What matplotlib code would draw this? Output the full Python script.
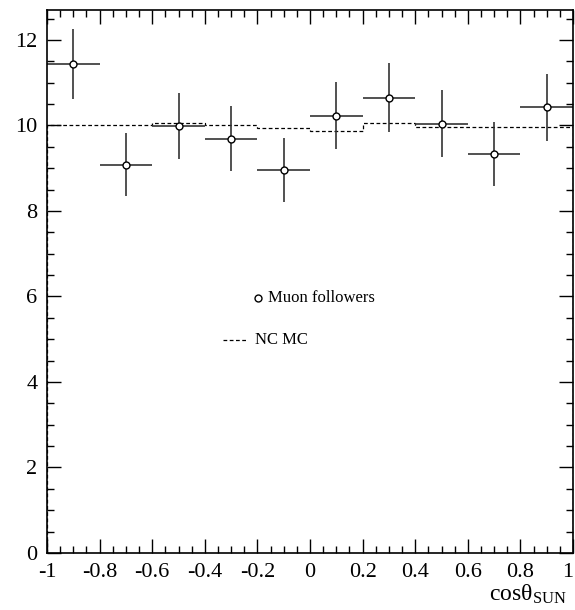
import matplotlib
matplotlib.use("Agg")
import matplotlib.pyplot as plt
from matplotlib.ticker import MultipleLocator, FixedFormatter, FixedLocator

plt.rcParams['font.family'] = ['Liberation Serif', 'DejaVu Serif']
plt.rcParams['mathtext.fontset'] = 'custom'
plt.rcParams['mathtext.rm'] = 'Liberation Serif'
plt.rcParams['mathtext.it'] = 'Liberation Serif'
plt.rcParams['axes.unicode_minus'] = False

# bins in cos(theta_sun)
bin_edges = [-1.0, -0.8, -0.6, -0.4, -0.2, 0.0, 0.2, 0.4, 0.6, 0.8, 1.0]
bin_centers = [-0.9, -0.7, -0.5, -0.3, -0.1, 0.1, 0.3, 0.5, 0.7, 0.9]

# muon followers: value and error
muon_vals = [11.44, 9.08, 9.99, 9.69, 8.96, 10.23, 10.65, 10.04, 9.33, 10.42]
muon_errs = [0.82, 0.74, 0.77, 0.76, 0.75, 0.78, 0.80, 0.78, 0.74, 0.79]

# NC MC histogram, one value per bin
mc_vals = [10.01, 10.01, 10.05, 10.00, 9.93, 9.88, 10.06, 9.96, 9.96, 9.97]

xtick_vals = [-1, -0.8, -0.6, -0.4, -0.2, 0, 0.2, 0.4, 0.6, 0.8, 1]
xtick_labels = ["-1", "-0.8", "-0.6", "-0.4", "-0.2", "0", "0.2", "0.4", "0.6", "0.8", "1"]

fig = plt.figure(figsize=(5.75, 6.1), dpi=100)
ax = fig.add_axes([47 / 575, 1 - 553 / 610, 526 / 575, 543 / 610])

# MC as a dashed step histogram
ax.stairs(mc_vals, bin_edges, color="black", linestyle=(0, (3, 2)), linewidth=0.9)

# data points with bin-width horizontal bars
half_w = [(bin_edges[i + 1] - bin_edges[i]) / 2 for i in range(len(bin_centers))]
ax.errorbar(bin_centers, muon_vals, xerr=half_w, yerr=muon_errs, fmt="o",
            color="#333333", ecolor="#333333", elinewidth=1.2, capsize=0,
            markersize=5, markerfacecolor="white", markeredgecolor="black",
            markeredgewidth=1.0)

ax.set_xlim(-1, 1)
ax.set_ylim(0, 12.7)

ax.xaxis.set_major_locator(FixedLocator(xtick_vals))
ax.xaxis.set_major_formatter(FixedFormatter(xtick_labels))
ax.xaxis.set_minor_locator(MultipleLocator(0.05))
ax.yaxis.set_major_locator(MultipleLocator(2))
ax.yaxis.set_minor_locator(MultipleLocator(0.5))

ax.tick_params(which="both", direction="in", top=True, right=True,
               labelsize=16, width=1.0)
ax.tick_params(which="major", length=10, pad=7)
ax.tick_params(which="minor", length=5)
for s in ax.spines.values():
    s.set_linewidth(1.2)

# keep the last x label inside the figure
fig.canvas.draw()
ax.get_xticklabels()[-1].set_horizontalalignment("right")

ax.set_xlabel(r"cos$\mathrm{\theta}_{\mathrm{SUN}}$", fontsize=17)
ax.xaxis.set_label_coords(0.915, -0.055)

# legend drawn by hand inside the axes
ax.plot([-0.198], [5.96], "o", markersize=5, markerfacecolor="white",
        markeredgecolor="black", markeredgewidth=1.0)
ax.text(-0.16, 5.96, "Muon followers", fontsize=12, va="center", ha="left")
ax.plot([-0.33, -0.245], [4.98, 4.98], color="black",
        linestyle=(0, (3, 2)), linewidth=0.9)
ax.text(-0.21, 4.98, "NC MC", fontsize=12, va="center", ha="left")

fig.savefig("out.png", dpi=100)
